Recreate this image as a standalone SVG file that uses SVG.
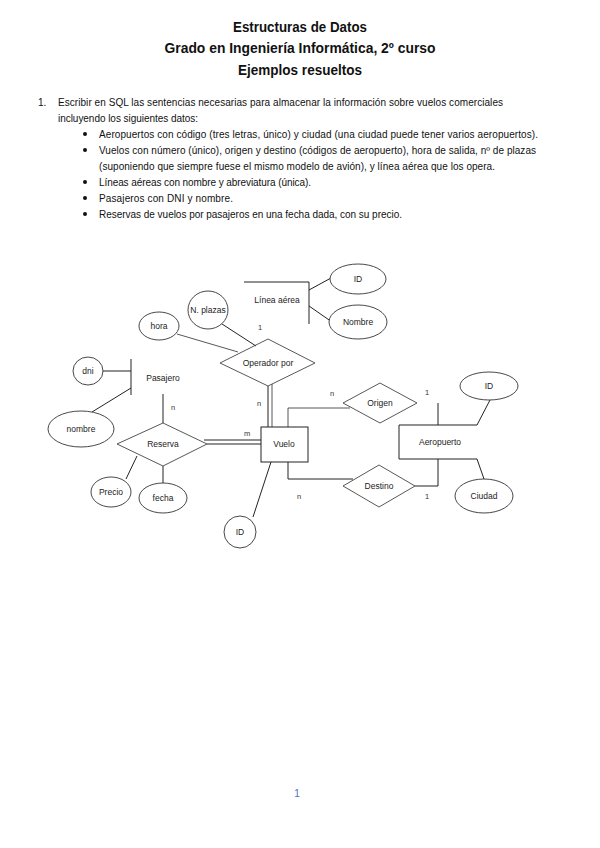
<svg xmlns="http://www.w3.org/2000/svg" width="600" height="848" viewBox="0 0 600 848">
<style>
.t{font-family:"Liberation Sans",Arial,sans-serif;font-weight:bold;font-size:15px;fill:#111;text-anchor:middle}
.b{font-family:"Liberation Sans",Arial,sans-serif;font-size:10px;fill:#111}
.l{font-family:"Liberation Sans",Arial,sans-serif;font-size:7.5px;fill:#333;text-anchor:middle}
.c{font-family:"Liberation Sans",Arial,sans-serif;font-size:8.5px;fill:#222;text-anchor:middle}
.s{fill:none;stroke:#222;stroke-width:1}
.g{fill:none;stroke:#444;stroke-width:0.9}
.e{fill:#fff;stroke:#333;stroke-width:0.9}
</style>
<rect width="600" height="848" fill="#fff"/>
<g id="header">
<text class="t" x="300" y="32" textLength="134" lengthAdjust="spacingAndGlyphs">Estructuras de Datos</text>
<text class="t" x="300" y="53" textLength="271" lengthAdjust="spacingAndGlyphs">Grado en Ingeniería Informática, 2º curso</text>
<text class="t" x="300" y="75" textLength="124" lengthAdjust="spacingAndGlyphs">Ejemplos resueltos</text>
</g>
<g id="statement">
<text class="b" x="38" y="106">1.</text>
<text class="b" x="58" y="106" textLength="445" lengthAdjust="spacing">Escribir en SQL las sentencias necesarias para almacenar la información sobre vuelos comerciales</text>
<text class="b" x="58" y="122" textLength="140" lengthAdjust="spacing">incluyendo los siguientes datos:</text>
<circle cx="85" cy="134" r="2" fill="#111"/>
<circle cx="85" cy="150" r="2" fill="#111"/>
<circle cx="85" cy="182" r="2" fill="#111"/>
<circle cx="85" cy="198" r="2" fill="#111"/>
<circle cx="85" cy="214" r="2" fill="#111"/>
<text class="b" x="99" y="138" textLength="439" lengthAdjust="spacing">Aeropuertos con código (tres letras, único) y ciudad (una ciudad puede tener varios aeropuertos).</text>
<text class="b" x="99" y="154" textLength="437" lengthAdjust="spacing">Vuelos con número (único), origen y destino (códigos de aeropuerto), hora de salida, nº de plazas</text>
<text class="b" x="99" y="170" textLength="396" lengthAdjust="spacing">(suponiendo que siempre fuese el mismo modelo de avión), y línea aérea que los opera.</text>
<text class="b" x="99" y="186" textLength="212" lengthAdjust="spacing">Líneas aéreas con nombre y abreviatura (única).</text>
<text class="b" x="99" y="202" textLength="134" lengthAdjust="spacing">Pasajeros con DNI y nombre.</text>
<text class="b" x="99" y="218" textLength="303" lengthAdjust="spacing">Reservas de vuelos por pasajeros en una fecha dada, con su precio.</text>
</g>
<g id="connectors">
<line class="s" x1="309" y1="290" x2="331" y2="278"/>
<line class="s" x1="309" y1="306" x2="332" y2="322"/>
<line class="s" x1="222" y1="324" x2="256" y2="346"/>
<line class="g" x1="177" y1="334" x2="238" y2="352"/>
<line class="s" x1="268" y1="386" x2="268" y2="427"/>
<line class="g" x1="272" y1="384" x2="272" y2="427"/>
<line class="s" x1="103" y1="371" x2="131" y2="371"/>
<line class="s" x1="92" y1="412" x2="131" y2="388"/>
<line class="s" x1="163" y1="394" x2="163" y2="423"/>
<line class="s" x1="204" y1="440" x2="261" y2="440"/>
<line class="s" x1="207" y1="444" x2="261" y2="444"/>
<line class="s" x1="126" y1="479" x2="137" y2="456"/>
<line class="s" x1="163" y1="466" x2="163" y2="483"/>
<line class="s" x1="271" y1="462" x2="253" y2="517"/>
<polyline class="g" points="288,427 288,408 350,408"/>
<polyline class="s" points="288,462 288,479 353,479"/>
<line class="s" x1="438" y1="403" x2="438" y2="425"/>
<polyline class="s" points="415,486 438,486 438,459"/>
<line class="s" x1="477" y1="425" x2="490" y2="400"/>
<line class="s" x1="477" y1="459" x2="484" y2="479"/>
</g>
<g id="linea-aerea">
<polyline class="s" points="244,282 309,282 309,324"/>
<text class="c" x="277" y="303">Línea aérea</text>
</g>
<g id="linea-id"><ellipse class="e" cx="358" cy="279" rx="28" ry="15"/><text class="c" x="358" y="282">ID</text></g>
<g id="linea-nombre"><ellipse class="e" cx="358" cy="322" rx="29" ry="17"/><text class="c" x="358" y="325">Nombre</text></g>
<g id="n-plazas"><ellipse class="e" cx="208" cy="310" rx="20" ry="19"/><text class="c" x="208" y="313" font-size="7.5">N. plazas</text></g>
<g id="hora"><ellipse class="e" cx="159" cy="326" rx="20" ry="14"/><text class="c" x="159" y="329">hora</text></g>
<g id="operador-por"><polygon class="g" fill="#fff" points="220,363 268,339 315,363 268,386"/><text class="c" x="268" y="366">Operador por</text></g>
<g id="pasajero">
<line class="s" x1="131" y1="359" x2="131" y2="395"/>
<text class="c" x="163" y="381">Pasajero</text>
</g>
<g id="dni"><ellipse class="e" cx="88" cy="371" rx="15" ry="14"/><text class="c" x="88" y="374">dni</text></g>
<g id="nombre"><ellipse class="e" cx="81" cy="429" rx="33" ry="18"/><text class="c" x="81" y="432">nombre</text></g>
<g id="reserva"><polygon class="g" fill="#fff" points="117,444 163,423 207,444 163,466"/><text class="c" x="163" y="447">Reserva</text></g>
<g id="precio"><ellipse class="e" cx="111" cy="492" rx="20" ry="15"/><text class="c" x="111" y="495">Precio</text></g>
<g id="fecha"><ellipse class="e" cx="163" cy="498" rx="24" ry="15"/><text class="c" x="163" y="501">fecha</text></g>
<g id="vuelo"><rect class="s" x="261" y="427" width="47" height="35" fill="#fff"/><text class="c" x="284" y="447">Vuelo</text></g>
<g id="vuelo-id"><ellipse class="e" cx="240" cy="532" rx="16" ry="16"/><text class="c" x="240" y="535">ID</text></g>
<g id="origen"><polygon class="g" fill="#fff" points="343,403 380,383 417,403 380,423"/><text class="c" x="380" y="406">Origen</text></g>
<g id="destino"><polygon class="g" fill="#fff" points="343,486 379,465 415,486 379,507"/><text class="c" x="379" y="489">Destino</text></g>
<g id="aeropuerto">
<polyline class="s" points="477,425 399,425 399,459 477,459"/>
<text class="c" x="440" y="445">Aeropuerto</text>
</g>
<g id="aeropuerto-id"><ellipse class="e" cx="489" cy="386" rx="29" ry="14"/><text class="c" x="489" y="389">ID</text></g>
<g id="ciudad"><ellipse class="e" cx="484" cy="496" rx="29" ry="17"/><text class="c" x="484" y="499">Ciudad</text></g>
<g id="cardinalities">
<text class="l" x="260" y="330">1</text>
<text class="l" x="259" y="406">n</text>
<text class="l" x="173" y="410">n</text>
<text class="l" x="247" y="436">m</text>
<text class="l" x="299" y="499">n</text>
<text class="l" x="332" y="396">n</text>
<text class="l" x="427" y="395">1</text>
<text class="l" x="427" y="499">1</text>
</g>
<text x="297" y="797" font-family="Liberation Sans, Arial, sans-serif" font-size="10" fill="#4472C4" text-anchor="middle">1</text>
</svg>
